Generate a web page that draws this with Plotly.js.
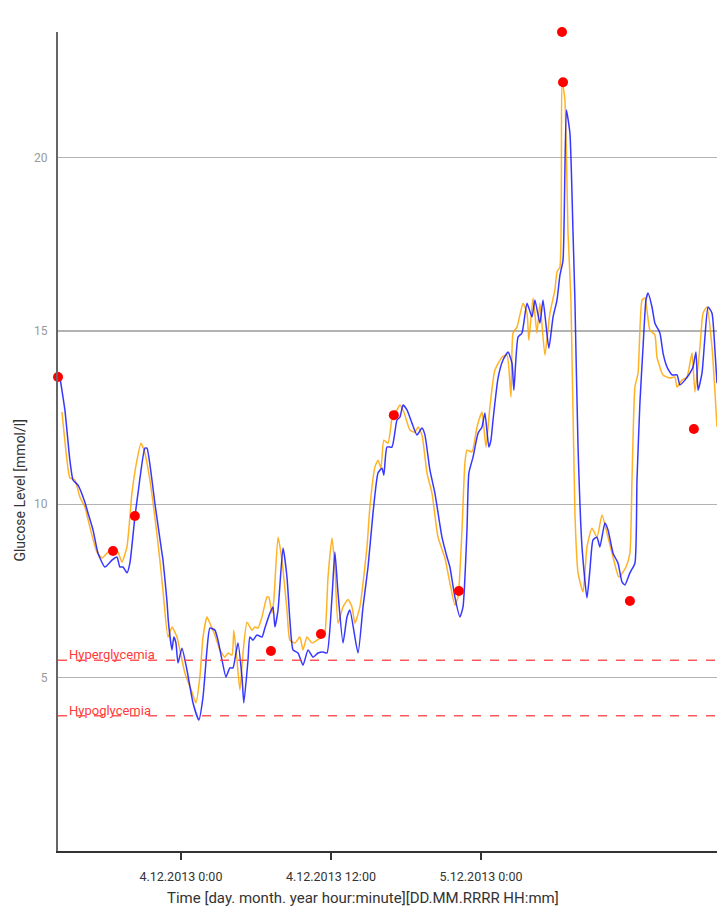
<!DOCTYPE html>
<html>
<head>
<meta charset="utf-8">
<script src="https://cdn.plot.ly/plotly-3.0.1.min.js"></script>
<style>html,body{margin:0;padding:0;background:#fff;}#chart{width:717px;height:908px;}</style>
</head>
<body>
<div id="chart"></div>
<script>
// Sensor (blue) series
const sensorTimes = [
"2013-12-03 14:19","2013-12-03 14:43","2013-12-03 15:07","2013-12-03 15:22","2013-12-03 15:46","2013-12-03 16:19","2013-12-03 16:34","2013-12-03 16:58","2013-12-03 17:22","2013-12-03 17:55",
"2013-12-03 18:29","2013-12-03 18:53","2013-12-03 19:07","2013-12-03 19:22","2013-12-03 19:41","2013-12-03 19:55","2013-12-03 20:19","2013-12-03 20:34","2013-12-03 21:07","2013-12-03 21:17",
"2013-12-03 21:41","2013-12-03 21:55","2013-12-03 22:29","2013-12-03 22:34","2013-12-03 22:53","2013-12-03 23:00","2013-12-03 23:17","2013-12-03 23:26","2013-12-03 23:36","2013-12-03 23:46",
"2013-12-04 00:05","2013-12-04 00:29","2013-12-04 00:58","2013-12-04 01:26","2013-12-04 01:46","2013-12-04 02:05","2013-12-04 02:19","2013-12-04 02:43","2013-12-04 02:58","2013-12-04 03:17",
"2013-12-04 03:36","2013-12-04 03:55","2013-12-04 04:10","2013-12-04 04:24","2013-12-04 04:34","2013-12-04 04:53","2013-12-04 05:02","2013-12-04 05:22","2013-12-04 05:31","2013-12-04 05:46",
"2013-12-04 06:05","2013-12-04 06:29","2013-12-04 06:43","2013-12-04 07:07","2013-12-04 07:22","2013-12-04 07:31","2013-12-04 07:46","2013-12-04 08:10","2013-12-04 08:29","2013-12-04 08:43",
"2013-12-04 08:58","2013-12-04 09:22","2013-12-04 09:46","2013-12-04 10:10","2013-12-04 10:34","2013-12-04 10:58","2013-12-04 11:22","2013-12-04 11:41","2013-12-04 12:05","2013-12-04 12:19",
"2013-12-04 12:34","2013-12-04 12:58","2013-12-04 13:17","2013-12-04 13:31","2013-12-04 14:10","2013-12-04 14:34","2013-12-04 14:58","2013-12-04 15:22","2013-12-04 15:46","2013-12-04 16:05",
"2013-12-04 16:14","2013-12-04 16:29","2013-12-04 16:53","2013-12-04 17:17","2013-12-04 17:31","2013-12-04 17:46","2013-12-04 18:05","2013-12-04 18:29","2013-12-04 18:53","2013-12-04 19:17",
"2013-12-04 19:31","2013-12-04 19:55","2013-12-04 20:19","2013-12-04 20:53","2013-12-04 21:17","2013-12-04 21:31","2013-12-04 21:55","2013-12-04 22:19","2013-12-04 22:34","2013-12-04 22:53",
"2013-12-04 23:02","2013-12-04 23:22","2013-12-04 23:46","2013-12-05 00:05","2013-12-05 00:19","2013-12-05 00:38","2013-12-05 00:48","2013-12-05 00:58","2013-12-05 01:22","2013-12-05 01:46",
"2013-12-05 02:10","2013-12-05 02:29","2013-12-05 02:38","2013-12-05 02:58","2013-12-05 03:17","2013-12-05 03:41","2013-12-05 04:05","2013-12-05 04:19","2013-12-05 04:43","2013-12-05 04:58",
"2013-12-05 05:26","2013-12-05 05:46","2013-12-05 06:05","2013-12-05 06:19","2013-12-05 06:34","2013-12-05 06:50","2013-12-05 07:07","2013-12-05 07:22","2013-12-05 07:31","2013-12-05 07:46",
"2013-12-05 08:05","2013-12-05 08:29","2013-12-05 08:43","2013-12-05 08:58","2013-12-05 09:17","2013-12-05 09:31","2013-12-05 09:55","2013-12-05 10:10","2013-12-05 10:34","2013-12-05 10:58",
"2013-12-05 11:17","2013-12-05 11:31","2013-12-05 11:55","2013-12-05 12:19","2013-12-05 12:29","2013-12-05 12:43","2013-12-05 12:58","2013-12-05 13:12","2013-12-05 13:22","2013-12-05 13:41",
"2013-12-05 13:55","2013-12-05 14:19","2013-12-05 14:34","2013-12-05 14:53","2013-12-05 15:17","2013-12-05 15:41","2013-12-05 15:55","2013-12-05 16:19","2013-12-05 16:43","2013-12-05 16:58",
"2013-12-05 17:12","2013-12-05 17:22","2013-12-05 17:41","2013-12-05 17:55","2013-12-05 18:10","2013-12-05 18:29","2013-12-05 18:43","2013-12-05 18:53"
];
const sensorValues = [
13.67,12.72,11.27,10.70,10.55,10.06,9.75,9.26,8.59,8.19,
8.39,8.48,8.19,8.19,8.02,8.30,9.63,10.32,11.62,11.62,
10.70,10.03,8.59,8.39,7.20,6.60,5.80,6.17,6.00,5.42,
5.85,5.22,4.27,3.78,4.44,5.80,6.43,6.37,6.08,5.51,
5.02,5.28,5.28,5.71,6.00,5.02,4.27,5.51,6.17,6.08,
6.23,6.17,6.43,6.86,7.04,6.46,6.95,8.74,7.90,6.66,
5.80,5.71,5.36,5.80,5.59,5.71,5.74,5.71,7.32,8.62,
7.44,6.00,6.75,6.95,5.71,7.04,8.19,9.75,10.90,11.04,
10.84,11.65,11.65,12.43,12.51,12.86,12.72,12.34,12.00,12.20,
12.00,10.99,10.32,9.05,8.48,8.19,7.32,6.75,7.04,9.26,
10.90,11.36,12.05,12.23,12.63,11.65,11.85,12.43,13.64,14.16,
14.39,14.07,13.29,14.82,14.94,15.80,15.40,15.89,15.22,15.89,
14.50,15.40,15.89,16.60,17.04,21.37,20.70,17.82,15.89,11.65,
8.77,7.30,8.10,8.97,9.05,8.77,9.46,9.26,8.59,8.30,
7.76,7.67,8.02,8.30,10.70,12.92,14.53,15.89,16.09,15.69,
15.22,14.94,14.36,13.96,13.73,13.73,13.44,13.58,13.78,13.96,
14.39,13.29,13.78,14.82,15.69,15.51,14.45,13.49
];

// Predicted (orange) series
const predTimes = [
"2013-12-03 14:29","2013-12-03 14:53","2013-12-03 15:07","2013-12-03 15:31","2013-12-03 15:55","2013-12-03 16:19","2013-12-03 16:43","2013-12-03 17:17","2013-12-03 17:41","2013-12-03 18:10",
"2013-12-03 18:34","2013-12-03 18:58","2013-12-03 19:17","2013-12-03 19:41","2013-12-03 20:05","2013-12-03 20:29","2013-12-03 20:48","2013-12-03 21:07","2013-12-03 21:31","2013-12-03 21:55",
"2013-12-03 22:19","2013-12-03 22:34","2013-12-03 22:58","2013-12-03 23:17","2013-12-03 23:41","2013-12-03 23:55","2013-12-04 00:19","2013-12-04 00:53","2013-12-04 01:12","2013-12-04 01:31",
"2013-12-04 01:46","2013-12-04 02:05","2013-12-04 02:19","2013-12-04 02:43","2013-12-04 03:07","2013-12-04 03:31","2013-12-04 03:46","2013-12-04 04:05","2013-12-04 04:14","2013-12-04 04:29",
"2013-12-04 04:43","2013-12-04 04:58","2013-12-04 05:17","2013-12-04 05:41","2013-12-04 05:55","2013-12-04 06:10","2013-12-04 06:29","2013-12-04 06:53","2013-12-04 07:02","2013-12-04 07:17",
"2013-12-04 07:26","2013-12-04 07:46","2013-12-04 08:05","2013-12-04 08:29","2013-12-04 08:43","2013-12-04 09:07","2013-12-04 09:31","2013-12-04 09:46","2013-12-04 10:05","2013-12-04 10:29",
"2013-12-04 10:53","2013-12-04 11:17","2013-12-04 11:31","2013-12-04 11:46","2013-12-04 12:05","2013-12-04 12:19","2013-12-04 12:34","2013-12-04 12:58","2013-12-04 13:22","2013-12-04 13:41",
"2013-12-04 13:55","2013-12-04 14:19","2013-12-04 14:53","2013-12-04 15:07","2013-12-04 15:31","2013-12-04 15:46","2013-12-04 16:00","2013-12-04 16:14","2013-12-04 16:34","2013-12-04 16:58",
"2013-12-04 17:17","2013-12-04 17:31","2013-12-04 17:50","2013-12-04 18:19","2013-12-04 18:43","2013-12-04 18:58","2013-12-04 19:17","2013-12-04 19:41","2013-12-04 20:05","2013-12-04 20:34",
"2013-12-04 21:07","2013-12-04 21:31","2013-12-04 21:55","2013-12-04 22:10","2013-12-04 22:29","2013-12-04 22:43","2013-12-04 22:53","2013-12-04 23:17","2013-12-04 23:41","2013-12-05 00:05",
"2013-12-05 00:24","2013-12-05 00:43","2013-12-05 01:07","2013-12-05 01:41","2013-12-05 02:05","2013-12-05 02:24","2013-12-05 02:34","2013-12-05 02:53","2013-12-05 03:22","2013-12-05 03:41",
"2013-12-05 03:50","2013-12-05 04:10","2013-12-05 04:29","2013-12-05 04:43","2013-12-05 05:07","2013-12-05 05:31","2013-12-05 05:55","2013-12-05 06:05","2013-12-05 06:19","2013-12-05 06:29",
"2013-12-05 06:43","2013-12-05 06:58","2013-12-05 07:12","2013-12-05 07:31","2013-12-05 07:46","2013-12-05 08:10","2013-12-05 08:29","2013-12-05 08:53","2013-12-05 09:17","2013-12-05 09:41",
"2013-12-05 10:05","2013-12-05 10:34","2013-12-05 11:02","2013-12-05 11:36","2013-12-05 11:55","2013-12-05 12:05","2013-12-05 12:19","2013-12-05 12:34","2013-12-05 12:53","2013-12-05 13:07",
"2013-12-05 13:31","2013-12-05 13:55","2013-12-05 14:05","2013-12-05 14:34","2013-12-05 15:07","2013-12-05 15:31","2013-12-05 15:41","2013-12-05 16:05","2013-12-05 16:29","2013-12-05 16:53",
"2013-12-05 17:07","2013-12-05 17:31","2013-12-05 17:46","2013-12-05 18:05","2013-12-05 18:29","2013-12-05 18:53"
];
const predValues = [
12.66,11.27,10.76,10.70,10.21,9.92,9.34,8.62,8.45,8.62,
8.74,8.62,8.33,8.77,10.32,11.27,11.76,11.48,10.70,9.63,
8.39,7.50,6.17,6.46,6.17,5.80,5.13,4.58,4.27,5.02,
6.17,6.75,6.57,6.23,5.80,5.59,5.71,5.65,6.37,5.51,
4.64,5.71,6.60,6.37,6.46,6.43,6.75,7.32,7.32,6.86,
7.24,9.05,8.39,6.95,6.08,6.00,6.17,5.80,6.17,6.00,
6.08,6.17,6.29,7.90,9.03,8.19,6.57,7.04,7.25,7.04,
6.57,7.04,8.77,9.92,11.07,11.27,11.04,11.85,11.76,12.63,
12.72,12.86,12.66,12.14,12.08,12.23,12.00,10.90,10.32,9.05,
8.45,7.73,7.09,7.32,9.26,11.19,11.56,11.51,12.23,12.66,
11.65,12.80,13.87,14.24,14.30,13.09,14.94,15.11,15.80,15.51,
14.73,15.95,14.94,15.80,14.30,15.51,16.18,16.70,16.84,22.23,
21.66,17.82,15.89,9.75,8.02,7.47,8.77,9.31,9.05,9.69,
9.17,8.48,7.90,8.19,8.59,10.70,13.38,13.78,15.89,15.95,
15.02,14.88,14.24,13.73,13.64,13.67,13.38,13.58,13.67,14.36,
13.24,14.53,15.51,15.69,14.53,12.23
];

// Reference (finger-stick) measurements
const refTimes = [
"2013-12-03 14:10","2013-12-03 18:34","2013-12-03 20:19","2013-12-04 07:12","2013-12-04 11:12","2013-12-04 17:02",
"2013-12-04 22:14","2013-12-05 06:29","2013-12-05 06:34","2013-12-05 11:55","2013-12-05 17:02"
];
const refValues = [13.67,8.65,9.66,5.77,6.26,12.57,7.50,23.62,22.17,7.21,12.17];

// Thresholds
const thresholdNames = ["Hyperglycemia","Hypoglycemia"];
const thresholdValues = [5.5,3.9];

// Axis
const xRange = ["2013-12-03 14:10","2013-12-05 18:53"];
const yRange = [0,23.62];
const xTickVals = ["2013-12-04 00:00","2013-12-04 12:00","2013-12-05 00:00"];
const xTickText = ["4.12.2013 0:00","4.12.2013 12:00","5.12.2013 0:00"];
const yTickVals = [5,10,15,20];

const traces = [
  {x: predTimes, y: predValues, type:'scatter', mode:'lines', line:{color:'rgba(255,165,0,0.85)', width:1.5, shape:'spline', smoothing:0.5}, hoverinfo:'skip'},
  {x: sensorTimes, y: sensorValues, type:'scatter', mode:'lines', line:{color:'rgba(20,20,255,0.85)', width:1.5, shape:'spline', smoothing:0.5}, hoverinfo:'skip'},
  {x: refTimes, y: refValues, type:'scatter', mode:'markers', marker:{color:'#ff0000', size:10}, cliponaxis:false, hoverinfo:'skip'}
];

const shapes = thresholdValues.map(v => ({
  type:'line', xref:'paper', x0:0, x1:1, yref:'y', y0:v, y1:v,
  line:{color:'rgba(255,70,70,0.9)', width:1.5, dash:'dash'}
}));

const annotations = thresholdNames.map((n,i) => ({
  text:n, xref:'paper', x:0.014, xanchor:'left', yref:'y', y:thresholdValues[i], yanchor:'bottom', yshift:-4,
  showarrow:false, font:{family:'Roboto, sans-serif', size:13, color:'#ff3b3b'}
}));
annotations.push({
  text:'Glucose Level [mmol/l]', xref:'paper', yref:'paper', x:-0.058, y:0.441, textangle:-90,
  xanchor:'center', yanchor:'middle', showarrow:false, font:{family:'Roboto, sans-serif', size:14, color:'#333'}
});
annotations.push({
  text:'Time [day. month. year hour:minute][DD.MM.RRRR HH:mm]', xref:'paper', yref:'paper', x:0.463, y:-0.0574,
  xanchor:'center', yanchor:'middle', showarrow:false, font:{family:'Roboto, sans-serif', size:15, color:'#333'}
});

const layout = {
  width:717, height:908,
  margin:{l:58, r:0, t:32, b:57},
  paper_bgcolor:'#fff', plot_bgcolor:'#fff',
  showlegend:false,
  font:{family:'Roboto, sans-serif'},
  xaxis:{
    type:'date', range:xRange, tickmode:'array', tickvals:xTickVals, ticktext:xTickText,
    showgrid:false, zeroline:false, showline:true, linecolor:'#333', linewidth:2,
    ticks:'outside', ticklen:7, tickwidth:1.5, tickcolor:'#333', ticklabelstandoff:6,
    tickfont:{family:'Roboto, sans-serif', size:12.5, color:'#333'}, fixedrange:true
  },
  yaxis:{
    range:yRange, tickmode:'array', tickvals:yTickVals,
    showgrid:true, gridcolor:'#b3b3b3', gridwidth:1.5, zeroline:false,
    showline:true, linecolor:'#666', linewidth:2, ticks:'', ticklabelstandoff:6,
    tickfont:{family:'Roboto, sans-serif', size:12, color:'#999'}, fixedrange:true
  },
  shapes:shapes,
  annotations:annotations,
  hovermode:false
};

Plotly.newPlot('chart', traces, layout, {displayModeBar:false, staticPlot:true});
</script>
</body>
</html>
